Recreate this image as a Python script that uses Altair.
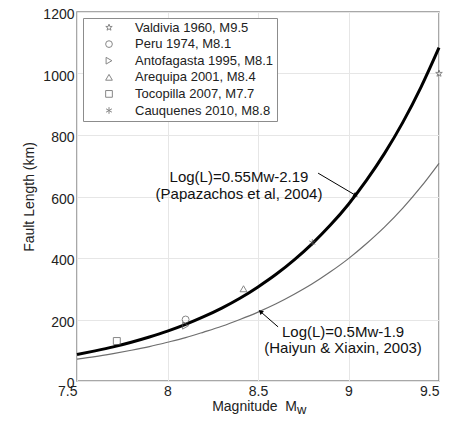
import altair as alt
import pandas as pd

FONT = "Liberation Sans"

# Curves (magnitude grid, fault length in km)
mw_grid = [7.5, 7.6, 7.7, 7.8, 7.9, 8.0, 8.1, 8.2, 8.3, 8.4, 8.5,
           8.6, 8.7, 8.8, 8.9, 9.0, 9.1, 9.2, 9.3, 9.4, 9.5]
papazachos_km = [86, 98, 111, 126, 143, 162, 184, 209, 237, 269, 306,
                 347, 394, 447, 507, 575, 653, 741, 841, 955, 1084]
haiyun_km = [71, 79, 89, 100, 112, 126, 141, 159, 178, 200, 224,
             251, 282, 316, 355, 398, 447, 501, 562, 631, 708]

# Earthquakes
events = ["Valdivia 1960, M9.5", "Peru 1974, M8.1", "Antofagasta 1995, M8.1",
          "Arequipa 2001, M8.4", "Tocopilla 2007, M7.7", "Cauquenes 2010, M8.8"]
event_mw = [9.5, 8.1, 8.1, 8.42, 7.72, 8.8]
event_km = [1000, 200, 180, 300, 130, 450]
STAR = ("M0,-1L0.235,-0.324L0.951,-0.309L0.38,0.124L0.588,0.809L0,0.4"
        "L-0.588,0.809L-0.38,0.124L-0.951,-0.309L-0.235,-0.324Z")
ASTERISK = "M0,-1L0,1M-0.87,-0.5L0.87,0.5M-0.87,0.5L0.87,-0.5"
event_shapes = [STAR, "circle", "triangle-right", "triangle-up", "square", ASTERISK]

# Annotations
anno_text = ["Log(L)=0.55Mw-2.19", "(Papazachos et al, 2004)",
             "Log(L)=0.5Mw-1.9", "(Haiyun & Xiaxin, 2003)"]
anno_mw = [8.395, 8.395, 8.97, 8.97]
anno_km = [647, 592, 143, 91]

arrow_from_mw = [8.832, 8.611]
arrow_from_km = [676, 176]
arrow_to_mw = [9.036, 8.517]
arrow_to_km = [605, 224]
arrow_angle = [121, 311]

x_ticks = [7.5, 8, 8.5, 9, 9.5]
y_ticks = [0, 200, 400, 600, 800, 1000, 1200]

curve_df = pd.DataFrame({"Mw": mw_grid + mw_grid,
                         "L": papazachos_km + haiyun_km,
                         "fit": ["pap"] * len(mw_grid) + ["hai"] * len(mw_grid)})
event_df = pd.DataFrame({"Mw": event_mw, "L": event_km, "event": events})
anno_df = pd.DataFrame({"Mw": anno_mw, "L": anno_km, "t": anno_text})
arrow_df = pd.DataFrame({"Mw": arrow_from_mw, "L": arrow_from_km,
                         "Mw2": arrow_to_mw, "L2": arrow_to_km, "ang": arrow_angle})

xscale = alt.Scale(domain=[7.5, 9.5], nice=False, zero=False)
yscale = alt.Scale(domain=[0, 1200], nice=False)
xaxis = alt.Axis(values=x_ticks, format="~g", title=None, grid=True, domain=False,
                 ticks=False, labelPadding=3, labelFontSize=14, labelFont=FONT,
                 labelColor="#222", gridColor="#e6e6e6", labelFlush=False,
                 labelAlign={"condition": {"test": "datum.value == 7.5 || datum.value == 9.5",
                                           "value": "right"}, "value": "center"})
yaxis = alt.Axis(values=y_ticks, format="d", title="Fault Length (km)", grid=True,
                 domain=False, ticks=False, labelPadding=3, labelFontSize=14,
                 labelFont=FONT, labelColor="#222", gridColor="#e6e6e6", labelOffset=2.5,
                 titleFont=FONT, titleFontSize=14, titleFontWeight="normal",
                 titleColor="#222", titlePadding=6, labelFlush=False)


def X(f):
    return alt.X(f, type="quantitative", scale=xscale, axis=xaxis)


def Y(f):
    return alt.Y(f, type="quantitative", scale=yscale, axis=yaxis)


base_curve = alt.Chart(curve_df)
thick = base_curve.transform_filter("datum.fit == 'pap'").mark_line(
    color="black", strokeWidth=3, interpolate="monotone").encode(x=X("Mw"), y=Y("L"))
thin = base_curve.transform_filter("datum.fit == 'hai'").mark_line(
    color="#6e6e6e", strokeWidth=1.2, interpolate="monotone").encode(x=X("Mw"), y=Y("L"))

points = alt.Chart(event_df).mark_point(filled=False, color="#555", strokeWidth=1, size=48).encode(
    x=X("Mw"), y=Y("L"),
    shape=alt.Shape("event:N", scale=alt.Scale(domain=events, range=event_shapes),
                    legend=alt.Legend(title=None, orient="none", legendX=6, legendY=6,
                                      padding=3, strokeColor="#8c8c8c", fillColor="white",
                                      labelFont=FONT, labelFontSize=13, labelColor="#222",
                                      labelLimit=300, symbolSize=45, symbolStrokeColor="#555",
                                      symbolFillColor="transparent", symbolStrokeWidth=1,
                                      symbolOffset=16.5, labelOffset=19.5, rowPadding=2.6,
                                      values=events)),
)

annos = alt.Chart(anno_df).mark_text(font=FONT, fontSize=15, color="#111", align="center",
                                     baseline="alphabetic").encode(
    x=X("Mw"), y=Y("L"), text="t:N")

arrows = alt.Chart(arrow_df).mark_rule(color="black", strokeWidth=1).encode(
    x=X("Mw"), y=Y("L"), x2="Mw2", y2="L2")
heads = alt.Chart(arrow_df).mark_point(shape="triangle", filled=True, color="black",
                                       size=28, opacity=1).encode(
    x=X("Mw2"), y=Y("L2"), angle=alt.Angle("ang:Q", scale=None))

xt_df = pd.DataFrame({"a": ["Magnitude\u00a0\u00a0M"], "b": ["w"]})
xtitle = alt.Chart(xt_df).mark_text(font=FONT, fontSize=14, color="#222", align="right",
                                    baseline="alphabetic").encode(
    x=alt.value(220), y=alt.value(399), text="a:N")
xsub = alt.Chart(xt_df).mark_text(font=FONT, fontSize=13, color="#222", align="left",
                                  baseline="alphabetic").encode(
    x=alt.value(220), y=alt.value(402), text="b:N")

chart = alt.layer(thin, thick, points, annos, arrows, heads, xtitle, xsub).properties(
    width=362, height=369,
    autosize=alt.AutoSizeParams(type="none"),
    padding={"left": 69, "top": 4, "right": 7, "bottom": 35},
).configure_view(stroke="#8c8c8c", strokeWidth=1.5)

chart.save("out.html", embed_options={"renderer": "svg", "actions": False})
